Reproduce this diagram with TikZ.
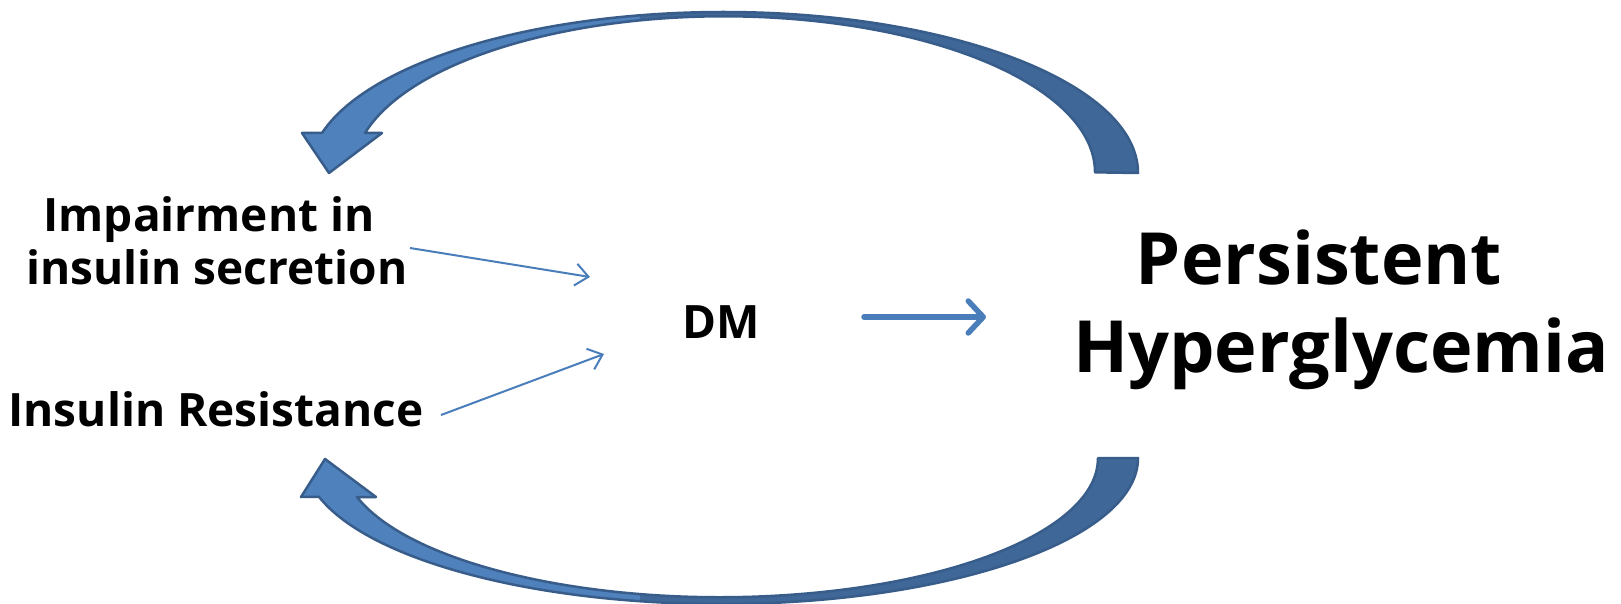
\documentclass[tikz,border=0pt]{standalone}
\usepackage{fontspec}
\setmainfont{Open Sans}
\usetikzlibrary{arrows.meta}
\definecolor{lightblue}{HTML}{4F81BD}
\definecolor{darkblue}{HTML}{3F6797}
\definecolor{edgeblue}{HTML}{385D8A}
\definecolor{linkblue}{HTML}{4A7EBB}
\begin{document}
\begin{tikzpicture}[x=1pt,y=1pt,
  lbl/.style={font=\fontsize{46}{53}\selectfont\bfseries, inner sep=0pt, anchor=base},
  big/.style={font=\fontsize{72}{87}\selectfont\bfseries, inner sep=0pt, anchor=base},
  thinlink/.style={linkblue, line width=2pt, -{Straight Barb[length=13pt,width=22pt]}},
  thicklink/.style={linkblue, line width=5.5pt, line cap=round, -{Straight Barb[length=15pt,width=32pt,round]}},
  bandedge/.style={edgeblue, line width=2.5pt, line join=round}]
\useasboundingbox (0,0) rectangle (1621,603);
\fill[white] (0,0) rectangle (1621,603);

% curved arrows
\def\toparrowpath{(1138,430) arc[start angle=0, end angle=165.6, x radius=414.5, y radius=161]
  -- (302,470) -- (329,430) -- (382,470) -- (365,470)
  arc[start angle=165.4, end angle=0, x radius=371, y radius=156] -- cycle}
\def\botarrowpath{(1138,145) arc[start angle=0, end angle=-164.6, x radius=417, y radius=146]
  -- (301,106) -- (325,144) -- (376,106) -- (357,106)
  arc[start angle=-163.8, end angle=0, x radius=378, y radius=139] -- cycle}

\fill[darkblue] \toparrowpath;
\begin{scope}
  \clip \toparrowpath;
  \fill[lightblue] (0,300) rectangle (640,603);
\end{scope}
\draw[bandedge] \toparrowpath;

\fill[darkblue] \botarrowpath;
\begin{scope}
  \clip \botarrowpath;
  \fill[lightblue] (-10,-10) rectangle (640,300);
\end{scope}
\draw[bandedge] \botarrowpath;

% labels
\node[lbl] (imp1) at (209,371) {Impairment in};
\node[lbl] (imp2) at (217,318) {insulin secretion};
\node[lbl] (res) at (216,177) {Insulin Resistance};
\node[lbl] (dm) at (721,265) {DM};
\node[big] (ph1) at (1319,318) {Persistent};
\node[big] (ph2) at (1341,231) {Hyperglycemia};

% connectors
\coordinate (s1) at (410,355);
\coordinate (e1) at (590,326);
\coordinate (s2) at (441,188);
\coordinate (e2) at (604,249);
\coordinate (s3) at (864,286);
\coordinate (e3) at (986,286);
\draw[thinlink] (s1) -- (e1);
\draw[thinlink] (s2) -- (e2);
\draw[thicklink] (s3) -- (e3);
\end{tikzpicture}
\end{document}
